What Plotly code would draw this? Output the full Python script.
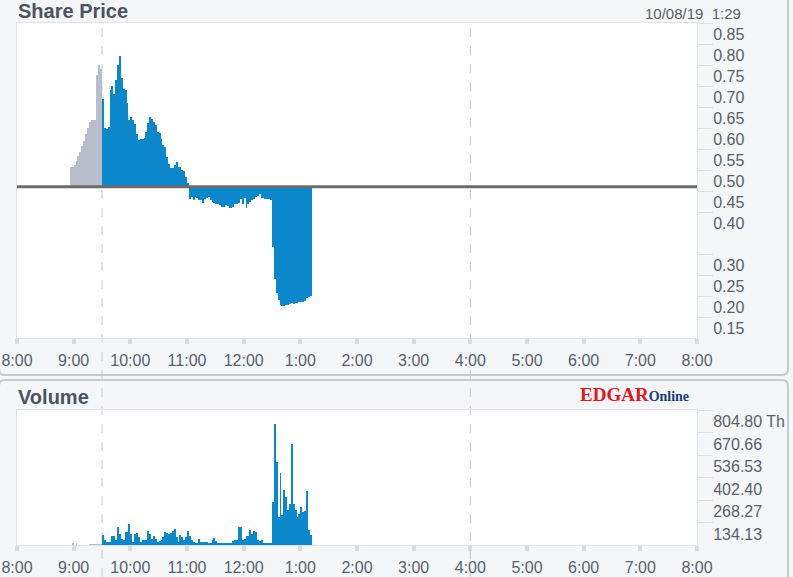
import numpy as np
import pandas as pd
import plotly.graph_objects as go

DAY = "2019-10-08"
PREV_CLOSE = 0.46
STAMP = "10/08/19\u00a0 1:29"

# pre-market, 2 minute bins from 8:56
PRE_START = "08:56"
PRE_PRICE = [0.508, 0.508, 0.512, 0.522, 0.533, 0.544, 0.556, 0.570, 0.586,
             0.600, 0.615, 0.619, 0.619, 0.619, 0.726, 0.750, 0.740]
PRE_VOLUME = [0, 10, 0, 10, 0, 0, 0, 0, 0, 0, 8, 8, 8, 8, 8, 8, 8]

# regular session, 2 minute bins from 9:30 (volume in thousands)
MKT_START = "09:30"
PRICE = [
    0.670, 0.600, 0.598, 0.602, 0.690, 0.700, 0.680, 0.714, 0.750, 0.771,
    0.718, 0.694, 0.690, 0.659, 0.620, 0.627, 0.619, 0.610, 0.585, 0.571,
    0.575, 0.573, 0.577, 0.590, 0.611, 0.627, 0.622, 0.615, 0.607, 0.591,
    0.587, 0.575, 0.560, 0.555, 0.530, 0.515, 0.504, 0.504, 0.512, 0.520,
    0.508, 0.508, 0.500, 0.497, 0.484, 0.468, 0.432, 0.436, 0.428, 0.436,
    0.434, 0.428, 0.428, 0.421, 0.430, 0.433, 0.435, 0.429, 0.424, 0.421,
    0.419, 0.418, 0.417, 0.413, 0.412, 0.416, 0.414, 0.409, 0.410, 0.413,
    0.418, 0.420, 0.421, 0.432, 0.420, 0.434, 0.409, 0.420, 0.424, 0.428,
    0.430, 0.436, 0.438, 0.443, 0.434, 0.434, 0.432, 0.430, 0.430, 0.429,
    0.317, 0.240, 0.206, 0.190, 0.179, 0.177, 0.176, 0.178, 0.178, 0.180,
    0.183, 0.182, 0.184, 0.183, 0.185, 0.186, 0.186, 0.188, 0.195, 0.198,
    0.200,
]
VOLUME = [
    58, 28, 18, 18, 20, 52, 52, 32, 107, 68,
    38, 28, 77, 77, 127, 68, 18, 68, 72, 48,
    18, 32, 32, 28, 81, 65, 38, 52, 38, 18,
    24, 28, 48, 77, 72, 68, 72, 81, 97, 48,
    18, 58, 48, 28, 48, 81, 52, 28, 18, 14,
    14, 38, 18, 18, 18, 18, 14, 14, 28, 42,
    22, 14, 14, 12, 12, 12, 12, 12, 14, 24,
    28, 28, 110, 105, 28, 38, 52, 52, 91, 68,
    83, 77, 28, 24, 32, 12, 12, 12, 12, 14,
    256, 723, 495, 167, 429, 180, 326, 286, 207, 246,
    604, 246, 207, 167, 187, 226, 197, 200, 322, 89,
    60,
]

HOURS = ["08:00", "09:00", "10:00", "11:00", "12:00", "13:00", "14:00",
         "15:00", "16:00", "17:00", "18:00", "19:00", "20:00"]
HOUR_LABELS = ["8:00", "9:00", "10:00", "11:00", "12:00", "1:00", "2:00",
               "3:00", "4:00", "5:00", "6:00", "7:00", "8:00"]
MARKERS = ["09:30", "16:00"]

PRICE_TICKS = [0.85, 0.80, 0.75, 0.70, 0.65, 0.60, 0.55, 0.50, 0.45, 0.40,
               0.30, 0.25, 0.20, 0.15]
VOLUME_TICKS = [134.13, 268.27, 402.40, 536.53, 670.66, 804.80]
VOLUME_LABELS = ["134.13", "268.27", "402.40", "536.53", "670.66", "804.80 Th"]

BLUE = "#0b88cc"
GREY = "#b9bdca"
FONT = "Liberation Sans, Arial, sans-serif"

W, H = 793, 577
ML, MR, MT, MB = 17, 96, 23, 32
PW, PH = W - ML - MR, H - MT - MB


def px(x):
    return (x - ML) / PW


def py(y):
    return (H - MB - y) / PH


def rounded(x0, y0, x1, y1, r=6):
    X = lambda v: f"{px(v):.5f}"
    Y = lambda v: f"{py(v):.5f}"
    return (f"M{X(x0 + r)},{Y(y0)} L{X(x1 - r)},{Y(y0)} Q{X(x1)},{Y(y0)} {X(x1)},{Y(y0 + r)} "
            f"L{X(x1)},{Y(y1 - r)} Q{X(x1)},{Y(y1)} {X(x1 - r)},{Y(y1)} "
            f"L{X(x0 + r)},{Y(y1)} Q{X(x0)},{Y(y1)} {X(x0)},{Y(y1 - r)} "
            f"L{X(x0)},{Y(y0 + r)} Q{X(x0)},{Y(y0)} {X(x0 + r)},{Y(y0)} Z")


pre_t = pd.date_range(f"{DAY} {PRE_START}", periods=len(PRE_PRICE), freq="2min")
mkt_t = pd.date_range(f"{DAY} {MKT_START}", periods=len(PRICE), freq="2min")
bin_ms = 2 * 60 * 1000

fig = go.Figure()

for t, p, c in [(pre_t, PRE_PRICE, GREY), (mkt_t, PRICE, BLUE)]:
    fig.add_bar(x=t, y=np.array(p) - PREV_CLOSE, base=PREV_CLOSE, width=bin_ms,
                offset=0, marker=dict(color=c, line_width=0),
                xaxis="x", yaxis="y", hoverinfo="skip")

for t, v, c in [(pre_t, PRE_VOLUME, GREY), (mkt_t, VOLUME, BLUE)]:
    fig.add_bar(x=t, y=v, width=bin_ms, offset=0,
                marker=dict(color=c, line_width=0),
                xaxis="x2", yaxis="y2", hoverinfo="skip")

xrange = [f"{DAY} {HOURS[0]}", f"{DAY} {HOURS[-1]}"]
xstyle = dict(
    range=xrange, type="date", automargin=False,
    tickvals=[f"{DAY} {h}" for h in HOURS], ticktext=HOUR_LABELS,
    ticks="outside", ticklen=5, tickwidth=4, tickcolor="#d7dce2",
    ticklabelstandoff=3,
    showgrid=False, zeroline=False,
    showline=True, linecolor="#dfe3e8", linewidth=1, mirror=True,
    tickfont=dict(family=FONT, size=16, color="#585f6c"),
    fixedrange=True,
)
ystyle = dict(
    side="right", automargin=False,
    ticks="outside", ticklen=15, tickwidth=1, tickcolor="#d8dde3",
    ticklabelposition="outside bottom", ticklabelstandoff=12,
    showgrid=False, zeroline=False,
    showline=True, linecolor="#dfe3e8", linewidth=1, mirror=True,
    tickfont=dict(family=FONT, size=16, color="#585f6c"),
    fixedrange=True,
)

fig.update_layout(
    width=W, height=H,
    margin=dict(l=ML, r=MR, t=MT, b=MB, autoexpand=False),
    paper_bgcolor="#f4f6f8", plot_bgcolor="#ffffff",
    showlegend=False, bargap=0, barmode="overlay",
    xaxis=dict(xstyle, anchor="y"),
    xaxis2=dict(xstyle, anchor="y2", matches="x"),
    yaxis=dict(ystyle, anchor="x", domain=[py(338), 1], range=[0.10, 0.85],
               tickvals=PRICE_TICKS, ticktext=[f"{v:.2f}" for v in PRICE_TICKS]),
    yaxis2=dict(ystyle, anchor="x2", domain=[0, py(410)], range=[0, VOLUME_TICKS[-1]],
                tickvals=VOLUME_TICKS, ticktext=VOLUME_LABELS),
)

# panel frames
for y0, y1 in [(-10, 375), (380, 595)]:
    fig.add_shape(type="path", path=rounded(-1, y0, 788, y1), xref="paper", yref="paper",
                  line=dict(color="#c5cad1", width=2), layer="below")

# session markers
for m in MARKERS:
    fig.add_shape(type="line", x0=f"{DAY} {m}", x1=f"{DAY} {m}", xref="x",
                  y0=py(H), y1=py(28), yref="paper",
                  line=dict(color="#c8c8c8", width=1, dash="dash"), layer="below")

# previous close
fig.add_shape(type="line", xref="x domain", x0=0, x1=1, yref="y",
              y0=PREV_CLOSE, y1=PREV_CLOSE, line=dict(color="#6b6b6b", width=3),
              layer="above")

title_font = dict(family=FONT, size=20, color="#4b5364")
fig.add_annotation(text="<b>Share Price</b>", x=px(16), y=py(11), xref="paper", yref="paper",
                   xanchor="left", yanchor="middle", showarrow=False, font=title_font)
fig.add_annotation(text="<b>Volume</b>", x=px(16), y=py(397), xref="paper", yref="paper",
                   xanchor="left", yanchor="middle", showarrow=False, font=title_font)
fig.add_annotation(text=STAMP, x=px(743), y=py(13), xref="paper", yref="paper",
                   xanchor="right", yanchor="middle", showarrow=False,
                   font=dict(family=FONT, size=15, color="#5b6068"))
fig.add_annotation(
    text="<b><span style='color:#e3141b'>EDGAR</span>"
         "<span style='color:#1d3d78;font-size:14px'>Online</span></b>",
    x=px(691), y=py(394), xref="paper", yref="paper", xanchor="right", yanchor="middle",
    showarrow=False, font=dict(family="Liberation Serif, Times New Roman, serif", size=19),
)

fig.write_html("out.html", config=dict(displayModeBar=False, staticPlot=True),
               post_script="document.body.style.margin='0px';"
                           "document.body.style.overflow='hidden';")
